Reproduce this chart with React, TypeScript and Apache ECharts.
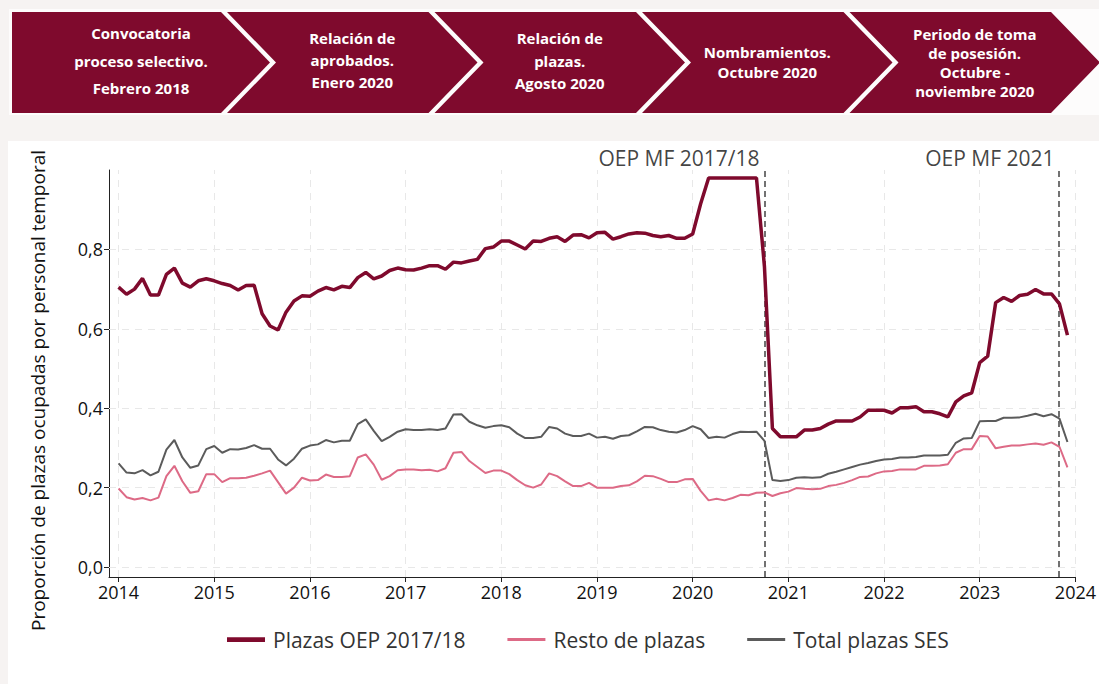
import React, { useEffect, useRef } from "react";
import * as echarts from "echarts";

// ---------- DATA ----------
const startYear = 2014;
const yearTicks = [2014, 2015, 2016, 2017, 2018, 2019, 2020, 2021, 2022, 2023, 2024];
const yTicks = [0, 0.2, 0.4, 0.6, 0.8];

const seriesNames = ["Plazas OEP 2017/18", "Resto de plazas", "Total plazas SES"];

// Monthly values, Jan 2014 .. Dec 2023
const plazasOEP = [
  0.705, 0.687, 0.700, 0.727, 0.685, 0.685, 0.737, 0.753, 0.715, 0.705, 0.721, 0.726,
  0.721, 0.714, 0.709, 0.698, 0.709, 0.710, 0.638, 0.607, 0.597, 0.642, 0.670, 0.683,
  0.682, 0.695, 0.704, 0.698, 0.707, 0.704, 0.729, 0.742, 0.726, 0.733, 0.747, 0.753,
  0.749, 0.748, 0.753, 0.759, 0.759, 0.750, 0.768, 0.766, 0.771, 0.775, 0.802, 0.806,
  0.821, 0.821, 0.811, 0.801, 0.821, 0.820, 0.828, 0.832, 0.820, 0.836, 0.837, 0.829,
  0.842, 0.843, 0.826, 0.832, 0.839, 0.842, 0.841, 0.835, 0.832, 0.835, 0.828, 0.828,
  0.839, 0.915, 0.980, 0.980, 0.980, 0.980, 0.980, 0.980, 0.980, 0.757, 0.349, 0.328,
  0.328, 0.328, 0.345, 0.345, 0.349, 0.360, 0.368, 0.368, 0.368, 0.378, 0.395, 0.395,
  0.395, 0.388, 0.401, 0.401, 0.404, 0.391, 0.391, 0.386, 0.378, 0.416, 0.431, 0.439,
  0.515, 0.531, 0.666, 0.679, 0.669, 0.684, 0.687, 0.699, 0.688, 0.688, 0.663, 0.584,
];

const restoPlazas = [
  0.198, 0.176, 0.170, 0.174, 0.168, 0.175, 0.229, 0.255, 0.216, 0.187, 0.191, 0.234,
  0.234, 0.214, 0.224, 0.224, 0.225, 0.230, 0.236, 0.243, 0.214, 0.185, 0.200, 0.225,
  0.218, 0.219, 0.233, 0.227, 0.227, 0.229, 0.276, 0.284, 0.258, 0.220, 0.229, 0.244,
  0.246, 0.246, 0.244, 0.245, 0.241, 0.249, 0.288, 0.290, 0.267, 0.252, 0.237, 0.243,
  0.243, 0.234, 0.219, 0.206, 0.200, 0.208, 0.236, 0.229, 0.216, 0.204, 0.204, 0.212,
  0.200, 0.200, 0.200, 0.204, 0.206, 0.216, 0.230, 0.229, 0.222, 0.214, 0.214, 0.221,
  0.222, 0.192, 0.168, 0.172, 0.168, 0.174, 0.182, 0.181, 0.187, 0.188, 0.179, 0.186,
  0.190, 0.199, 0.197, 0.196, 0.197, 0.204, 0.207, 0.212, 0.219, 0.227, 0.228, 0.236,
  0.241, 0.242, 0.246, 0.246, 0.246, 0.255, 0.255, 0.256, 0.259, 0.288, 0.297, 0.297,
  0.330, 0.329, 0.299, 0.303, 0.306, 0.306, 0.309, 0.311, 0.308, 0.314, 0.303, 0.251,
];

const totalSES = [
  0.261, 0.238, 0.236, 0.244, 0.231, 0.240, 0.296, 0.320, 0.276, 0.250, 0.256, 0.297,
  0.305, 0.288, 0.297, 0.296, 0.300, 0.307, 0.298, 0.298, 0.271, 0.256, 0.273, 0.298,
  0.306, 0.309, 0.320, 0.314, 0.318, 0.318, 0.360, 0.372, 0.343, 0.317, 0.328, 0.341,
  0.347, 0.345, 0.345, 0.347, 0.345, 0.349, 0.384, 0.385, 0.366, 0.357, 0.351, 0.355,
  0.357, 0.352, 0.336, 0.325, 0.325, 0.328, 0.353, 0.349, 0.336, 0.330, 0.330, 0.336,
  0.326, 0.328, 0.323, 0.330, 0.332, 0.342, 0.353, 0.352, 0.345, 0.341, 0.339, 0.345,
  0.355, 0.347, 0.325, 0.328, 0.326, 0.335, 0.341, 0.340, 0.341, 0.318, 0.219, 0.217,
  0.219, 0.225, 0.226, 0.225, 0.226, 0.235, 0.240, 0.246, 0.252, 0.258, 0.262, 0.267,
  0.271, 0.272, 0.276, 0.276, 0.277, 0.281, 0.281, 0.281, 0.283, 0.313, 0.324, 0.325,
  0.367, 0.368, 0.368, 0.376, 0.376, 0.377, 0.381, 0.386, 0.380, 0.385, 0.374, 0.315,
];

// Events (vertical dashed lines): decimal year of the month
const oepEvents = [
  { name: "OEP MF 2017/18", date: 2020 + 9 / 12 },
  { name: "OEP MF 2021", date: 2023 + 10 / 12 },
];

const steps = [
  { text: "Convocatoria\nproceso selectivo.\nFebrero 2018", lineHeight: 27.5, cy: 60.5 },
  { text: "Relación de\naprobados.\nEnero 2020", lineHeight: 22, cy: 60 },
  { text: "Relación de\nplazas.\nAgosto 2020", lineHeight: 22.5, cy: 60.5 },
  { text: "Nombramientos.\nOctubre 2020", lineHeight: 20, cy: 62 },
  { text: "Periodo de toma\nde posesión.\nOctubre -\nnoviembre 2020", lineHeight: 19, cy: 62 },
];

// ---------- STYLE ----------
const FONT = "Open Sans";
const C_RED = "#7f0a2d";
const C_PINK = "#dd6a86";
const C_GRAY = "#5b5b5b";
const Y_MIN = -0.025;
const Y_MAX = 1.0;

const toPoints = (vals: number[]) => vals.map((v, i) => [startYear + i / 12, v]);

function buildHeader() {
  const els: any[] = [];
  const top = 12;
  const bottom = 113;
  const mid = (top + bottom) / 2;
  const first = 221;
  const step = 207.5;
  const tip = 49;
  const gap = 6;
  steps.forEach((s, i) => {
    const xr = first + i * step;
    const xl = i === 0 ? 12 : first + (i - 1) * step + gap;
    const pts =
      i === 0
        ? [[xl, top], [xr, top], [xr + tip, mid], [xr, bottom], [xl, bottom]]
        : [[xl, top], [xr, top], [xr + tip, mid], [xr, bottom], [xl, bottom], [xl + tip, mid]];
    els.push({
      type: "polygon",
      shape: { points: pts },
      style: { fill: C_RED },
      z: 1,
    });
    els.push({
      type: "text",
      x: (xl + xr + tip) / 2,
      y: s.cy,
      style: {
        text: s.text,
        fill: "#ffffff",
        fontFamily: FONT,
        fontWeight: "bold",
        fontSize: 15,
        lineHeight: s.lineHeight,
        align: "center",
        verticalAlign: "middle",
      },
      z: 2,
    });
  });
  return els;
}

export default function App() {
  const ref = useRef<HTMLDivElement>(null);

  useEffect(() => {
    if (!ref.current) return;
    const chart = echarts.init(ref.current, null, { renderer: "svg" });

    const option: any = {
      animation: false,
      backgroundColor: "#f6f3f2",
      textStyle: { fontFamily: FONT },
      graphic: [
        { type: "rect", shape: { x: 9, y: 9, width: 1090, height: 106 }, style: { fill: "#fdfcfc" }, z: -5 },
        { type: "rect", shape: { x: 8, y: 141, width: 1091, height: 543 }, style: { fill: "#ffffff" }, z: -5 },
        ...buildHeader(),
      ],
      grid: { left: 109, right: 22.5, top: 170, bottom: 107, containLabel: false },
      xAxis: {
        type: "value",
        min: 2013.9,
        max: 2024,
        axisLine: { show: true, onZero: false, lineStyle: { color: "#222", width: 1 } },
        axisTick: { show: true, length: 5, customValues: yearTicks, lineStyle: { color: "#222" } },
        axisLabel: {
          customValues: yearTicks,
          formatter: (v: number) => String(Math.round(v)),
          fontSize: 18,
          color: "#111",
          margin: 6,
          fontFamily: FONT,
        },
        splitLine: { show: false },
      },
      yAxis: {
        type: "value",
        min: Y_MIN,
        max: Y_MAX,
        name: "Proporción de plazas ocupadas por personal temporal",
        nameLocation: "middle",
        nameGap: 62,
        nameTextStyle: { fontSize: 19, color: "#111", fontFamily: FONT, padding: [0, 34, 0, 0] },
        axisLine: { show: true, onZero: false, lineStyle: { color: "#222", width: 1 } },
        axisTick: { show: true, length: 5, customValues: yTicks, lineStyle: { color: "#222" } },
        axisLabel: {
          customValues: yTicks,
          formatter: (v: number) => v.toFixed(1).replace(".", ","),
          fontSize: 18,
          color: "#111",
          margin: 6,
          fontFamily: FONT,
        },
        splitLine: { show: false },
      },
      legend: {
        left: 222,
        top: 624,
        itemWidth: 38,
        itemHeight: 14,
        itemGap: 42,
        textStyle: { fontSize: 21, color: "#333", fontFamily: FONT, padding: [0, 0, 0, 3] },
        data: [
          { name: seriesNames[0], icon: "path://M0,0H40V5H0Z" },
          { name: seriesNames[1], icon: "path://M0,0H40V3H0Z" },
          { name: seriesNames[2], icon: "path://M0,0H40V3H0Z" },
        ],
      },
      series: [
        {
          name: seriesNames[1],
          type: "line",
          data: toPoints(restoPlazas),
          symbol: "none",
          showSymbol: false,
          lineStyle: { color: C_PINK, width: 2 },
          itemStyle: { color: C_PINK },
          z: 5,
          markLine: {
            silent: true,
            z: 1,
            symbol: ["none", "none"],
            label: { show: false },
            lineStyle: { color: "#e8e8e8", width: 1, type: [7, 6] },
            data: [
              ...yearTicks.map((y) => ({ xAxis: y })),
              ...yTicks.map((v) => ({ yAxis: v })),
            ],
          },
        },
        {
          name: seriesNames[2],
          type: "line",
          data: toPoints(totalSES),
          symbol: "none",
          showSymbol: false,
          lineStyle: { color: C_GRAY, width: 2 },
          itemStyle: { color: C_GRAY },
          z: 5,
        },
        {
          name: seriesNames[0],
          type: "line",
          data: toPoints(plazasOEP),
          symbol: "none",
          showSymbol: false,
          lineStyle: { color: C_RED, width: 3.5 },
          itemStyle: { color: C_RED },
          z: 6,
        },
        {
          name: "events",
          type: "scatter",
          symbolSize: 0,
          silent: true,
          clip: false,
          data: oepEvents.map((e) => ({ name: e.name, value: [e.date, Y_MAX] })),
          label: {
            show: true,
            position: "left",
            distance: 5,
            offset: [0, -12],
            formatter: (p: any) => p.name,
            fontSize: 21,
            color: "#111",
            fontFamily: FONT,
          },
          markLine: {
            silent: true,
            z: 4,
            symbol: ["none", "none"],
            label: { show: false },
            lineStyle: { color: "#444", width: 1.5, type: [6, 4] },
            data: oepEvents.map((e) => ({ xAxis: e.date })),
          },
        },
      ],
    };

    chart.setOption(option);
    return () => chart.dispose();
  }, []);

  return (
    <div
      ref={ref}
      style={{ position: "absolute", left: 0, top: 0, width: 1099, height: 684 }}
    />
  );
}
